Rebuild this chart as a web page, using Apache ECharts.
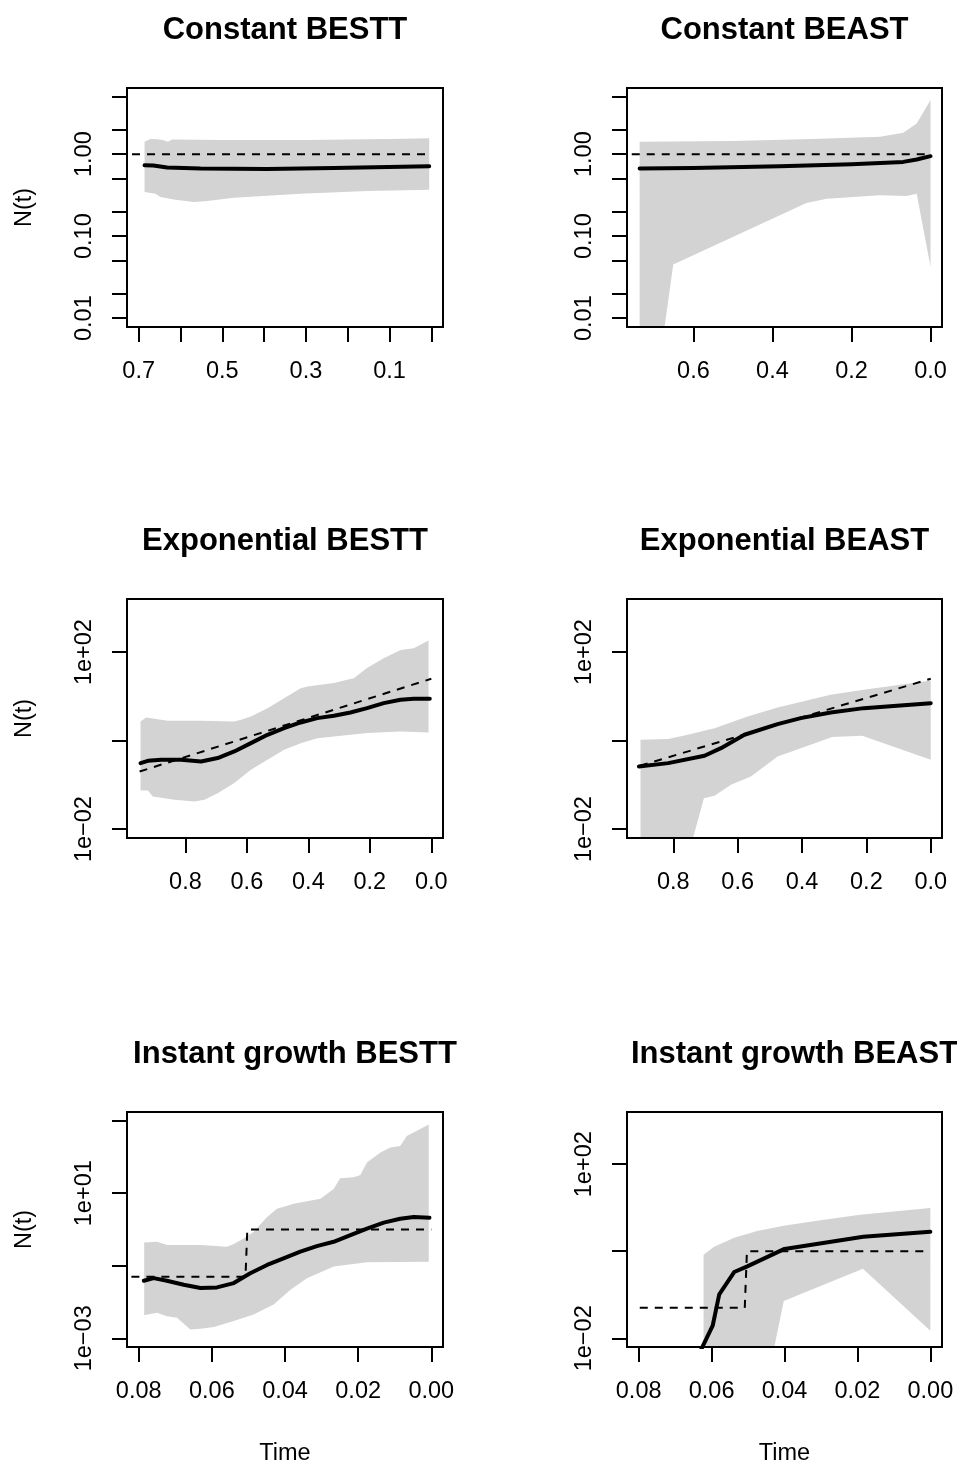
<!DOCTYPE html>
<html>
<head>
<meta charset="utf-8">
<script src="https://cdn.jsdelivr.net/npm/echarts@6/dist/echarts.min.js"></script>
<style>
html,body{margin:0;padding:0;background:#fff;}
#chart{width:957px;height:1467px;}
</style>
</head>
<body>
<div id="chart"></div>
<script>
// ---------------- DATA ----------------
const panelTitles = ['Constant BESTT', 'Constant BEAST', 'Exponential BESTT', 'Exponential BEAST', 'Instant growth BESTT', 'Instant growth BEAST'];
const yAxisTitle = 'N(t)';
const xAxisTitle = 'Time';

// Panel 1: Constant BESTT
const cbMedT = [0.686, 0.665, 0.632, 0.552, 0.393, 0.233, 0.005];
const cbMedN = [0.733, 0.726, 0.687, 0.667, 0.661, 0.680, 0.713];
const cbUpT = [0.686, 0.672, 0.655, 0.640, 0.630, 0.620, 0.500, 0.300, 0.100, 0.005];
const cbUpN = [1.42, 1.53, 1.52, 1.48, 1.42, 1.51, 1.49, 1.49, 1.53, 1.56];
const cbLoT = [0.686, 0.660, 0.648, 0.616, 0.568, 0.536, 0.472, 0.313, 0.153, 0.005];
const cbLoN = [0.346, 0.330, 0.300, 0.279, 0.261, 0.268, 0.295, 0.330, 0.356, 0.369];
const cbTrueT = [0.716, 0];
const cbTrueN = [1, 1];

// Panel 2: Constant BEAST
const caMedT = [0.736, 0.600, 0.381, 0.200, 0.069, 0.035, 0];
const caMedN = [0.667, 0.680, 0.713, 0.755, 0.805, 0.860, 0.945];
const caUpT = [0.736, 0.500, 0.300, 0.128, 0.069, 0.035, 0];
const caUpN = [1.42, 1.45, 1.53, 1.63, 1.82, 2.37, 4.58];
const caLoT = [0.736, 0.690, 0.651, 0.314, 0.263, 0.128, 0.061, 0.035, 0];
const caLoN = [0.002, 0.002, 0.045, 0.254, 0.286, 0.315, 0.309, 0.330, 0.042];
const caTrueT = [0.756, 0];
const caTrueN = [1, 1];

// Panel 3: Exponential BESTT
const ebMedT = [0.946, 0.922, 0.879, 0.814, 0.749, 0.695, 0.641, 0.587, 0.533, 0.479, 0.425, 0.371, 0.317, 0.263, 0.209, 0.155, 0.100, 0.057, 0.005];
const ebMedN = [0.310, 0.350, 0.369, 0.369, 0.338, 0.403, 0.569, 0.877, 1.355, 1.914, 2.57, 3.22, 3.64, 4.33, 5.42, 7.03, 8.37, 8.81, 8.81];
const ebUpT = [0.946, 0.928, 0.857, 0.749, 0.641, 0.619, 0.587, 0.533, 0.479, 0.425, 0.403, 0.317, 0.274, 0.252, 0.209, 0.155, 0.100, 0.057, 0.009];
const ebUpN = [2.71, 3.33, 2.81, 2.81, 2.71, 2.95, 3.52, 5.42, 9.12, 15.3, 16.7, 20.0, 23.7, 25.7, 43.7, 72.4, 112, 123, 182];
const ebLoT = [0.946, 0.922, 0.906, 0.868, 0.836, 0.771, 0.738, 0.695, 0.641, 0.587, 0.533, 0.479, 0.425, 0.371, 0.317, 0.209, 0.100, 0.009];
const ebLoN = [0.0748, 0.0748, 0.0547, 0.0501, 0.0460, 0.0422, 0.0460, 0.0650, 0.1096, 0.219, 0.369, 0.621, 0.877, 1.138, 1.242, 1.479, 1.61, 1.531];
const ebTrueT = [0.949, 0];
const ebTrueN = [0.20, 25];

// Panel 4: Exponential BEAST
const eaMedT = [0.907, 0.816, 0.703, 0.652, 0.579, 0.476, 0.404, 0.311, 0.208, 0.105, 0];
const eaMedN = [0.261, 0.310, 0.454, 0.676, 1.355, 2.36, 3.22, 4.33, 5.42, 6.12, 7.03];
const eaUpT = [0.902, 0.816, 0.755, 0.672, 0.569, 0.476, 0.311, 0.208, 0];
const eaUpN = [1.045, 1.081, 1.355, 1.914, 3.52, 5.62, 10.9, 14.1, 22.9];
const eaLoT = [0.902, 0.750, 0.705, 0.672, 0.621, 0.559, 0.476, 0.404, 0.306, 0.213, 0];
const eaLoN = [0.00316, 0.00316, 0.0501, 0.0566, 0.1005, 0.155, 0.439, 0.676, 1.20, 1.285, 0.369];
const eaTrueT = [0.904, 0];
const eaTrueN = [0.27, 25];

// Panel 5: Instant growth BESTT
const ibMedT = [0.0786, 0.0759, 0.0723, 0.0677, 0.0631, 0.0586, 0.0540, 0.0495, 0.0449, 0.0404, 0.0358, 0.0313, 0.0267, 0.0221, 0.0176, 0.0130, 0.0085, 0.0048, 0.0005];
const ibMedN = [0.0385, 0.0455, 0.0385, 0.0299, 0.0243, 0.0253, 0.0333, 0.0624, 0.1054, 0.160, 0.244, 0.348, 0.458, 0.697, 1.059, 1.545, 1.986, 2.21, 2.12];
const ibUpT = [0.0785, 0.0750, 0.0723, 0.0631, 0.0559, 0.0540, 0.0513, 0.0486, 0.0449, 0.0422, 0.0376, 0.0303, 0.0267, 0.0249, 0.0212, 0.0194, 0.0176, 0.0139, 0.0112, 0.0085, 0.0067, 0.0007];
const ibUpN = [0.439, 0.458, 0.371, 0.371, 0.334, 0.395, 0.565, 0.859, 2.21, 3.73, 5.11, 7.0, 13.1, 25.7, 27.4, 31.7, 70.3, 132, 181, 201, 377, 785];
const ibLoT = [0.0785, 0.0750, 0.0723, 0.0695, 0.0659, 0.0631, 0.0595, 0.0540, 0.0486, 0.0431, 0.0385, 0.0340, 0.0267, 0.0176, 0.0007];
const ibLoN = [0.00435, 0.00504, 0.00407, 0.00367, 0.00176, 0.00184, 0.00204, 0.00298, 0.00453, 0.00851, 0.0219, 0.0455, 0.0948, 0.125, 0.130];
const ibTrueT = [0.0820, 0.0508, 0.0503, 0];
const ibTrueN = [0.05, 0.05, 1, 1];

// Panel 6: Instant growth BEAST
const iaMedT = [0.0640, 0.0597, 0.0579, 0.0538, 0.0502, 0.0400, 0.0184, 0];
const iaMedN = [0.0035, 0.0194, 0.102, 0.333, 0.449, 1.13, 2.15, 2.80];
const iaUpT = [0.0622, 0.0593, 0.0538, 0.0475, 0.0402, 0.0320, 0.0193, 0];
const iaUpN = [0.826, 1.276, 2.05, 2.90, 3.83, 4.89, 6.93, 9.82];
const iaLoT = [0.0622, 0.0455, 0.0402, 0.0185, 0];
const iaLoN = [0.0005, 0.0005, 0.0718, 0.396, 0.0149];
const iaTrueT = [0.0797, 0.0509, 0.0503, 0];
const iaTrueN = [0.05, 0.05, 1, 1];

// Tick values and tick labels
const xTicksConstBestt = [0, 0.1, 0.2, 0.3, 0.4, 0.5, 0.6, 0.7];
const xLabelValsConstBestt = [0.7, 0.5, 0.3, 0.1];
const xLabelTextConstBestt = ['0.7', '0.5', '0.3', '0.1'];
const xTicksConstBeast = [0, 0.2, 0.4, 0.6];
const xLabelValsConstBeast = [0.6, 0.4, 0.2, 0];
const xLabelTextConstBeast = ['0.6', '0.4', '0.2', '0.0'];
const xTicksExp = [0, 0.2, 0.4, 0.6, 0.8];
const xLabelValsExp = [0.8, 0.6, 0.4, 0.2, 0];
const xLabelTextExp = ['0.8', '0.6', '0.4', '0.2', '0.0'];
const xTicksInst = [0, 0.02, 0.04, 0.06, 0.08];
const xLabelValsInst = [0.08, 0.06, 0.04, 0.02, 0];
const xLabelTextInst = ['0.08', '0.06', '0.04', '0.02', '0.00'];

const yTicksConst = [0.01, 0.02, 0.05, 0.1, 0.2, 0.5, 1, 2, 5];
const yLabelValsConst = [0.01, 0.1, 1];
const yLabelTextConst = ['0.01', '0.10', '1.00'];
const yTicksExp = [0.01, 1, 100];
const yLabelValsExp = [0.01, 100];
const yLabelTextExp = ['1e\u221202', '1e+02'];
const yTicksInstBestt = [0.001, 0.1, 10, 1000];
const yLabelValsInstBestt = [0.001, 10];
const yLabelTextInstBestt = ['1e\u221203', '1e+01'];

// Axis limits (x in time units, y in N(t), both as plotted ranges)
const xLimConstBestt = [-0.028, 0.728];
const xLimConstBeast = [-0.029, 0.768];
const xLimExpBestt = [-0.038, 0.990];
const xLimExpBeast = [-0.035, 0.944];
const xLimInst = [-0.0032, 0.0832];
const yLimConst = [0.0078, 6.41];
const yLimExp = [0.0063, 1585];
const yLimInstBestt = [0.000575, 1738];

// ---------------- LAYOUT / STYLE ----------------
const FONT = 'Liberation Sans';
const TICK_FONT = 23.5;
const cols = [{left: 127, width: 316}, {left: 627, width: 315}];
const rows = [{top: 88, height: 239, titleShift: 0}, {top: 599, height: 239, titleShift: 0}, {top: 1112, height: 238, titleShift: 10}];

const panels = [
  {med: [cbMedT, cbMedN], up: [cbUpT, cbUpN], lo: [cbLoT, cbLoN], tru: [cbTrueT, cbTrueN], xl: xLimConstBestt, yl: yLimConst,
   xt: xTicksConstBestt, xv: xLabelValsConstBestt, xs: xLabelTextConstBestt, yt: yTicksConst, yv: yLabelValsConst, ys: yLabelTextConst},
  {med: [caMedT, caMedN], up: [caUpT, caUpN], lo: [caLoT, caLoN], tru: [caTrueT, caTrueN], xl: xLimConstBeast, yl: yLimConst,
   xt: xTicksConstBeast, xv: xLabelValsConstBeast, xs: xLabelTextConstBeast, yt: yTicksConst, yv: yLabelValsConst, ys: yLabelTextConst},
  {med: [ebMedT, ebMedN], up: [ebUpT, ebUpN], lo: [ebLoT, ebLoN], tru: [ebTrueT, ebTrueN], xl: xLimExpBestt, yl: yLimExp,
   xt: xTicksExp, xv: xLabelValsExp, xs: xLabelTextExp, yt: yTicksExp, yv: yLabelValsExp, ys: yLabelTextExp},
  {med: [eaMedT, eaMedN], up: [eaUpT, eaUpN], lo: [eaLoT, eaLoN], tru: [eaTrueT, eaTrueN], xl: xLimExpBeast, yl: yLimExp,
   xt: xTicksExp, xv: xLabelValsExp, xs: xLabelTextExp, yt: yTicksExp, yv: yLabelValsExp, ys: yLabelTextExp},
  {med: [ibMedT, ibMedN], up: [ibUpT, ibUpN], lo: [ibLoT, ibLoN], tru: [ibTrueT, ibTrueN], xl: xLimInst, yl: yLimInstBestt,
   xt: xTicksInst, xv: xLabelValsInst, xs: xLabelTextInst, yt: yTicksInstBestt, yv: yLabelValsInstBestt, ys: yLabelTextInstBestt},
  {med: [iaMedT, iaMedN], up: [iaUpT, iaUpN], lo: [iaLoT, iaLoN], tru: [iaTrueT, iaTrueN], xl: xLimInst, yl: yLimExp,
   xt: xTicksInst, xv: xLabelValsInst, xs: xLabelTextInst, yt: yTicksExp, yv: yLabelValsExp, ys: yLabelTextExp}
];

const L = Math.log10;
function pairs(t, n) { return t.map((v, i) => [v, L(n[i])]); }
function lookup(vals, texts, v, isLog) {
  for (let i = 0; i < vals.length; i++) {
    const a = isLog ? L(vals[i]) : vals[i];
    if (Math.abs(a - v) < 1e-6) return texts[i];
  }
  return '';
}

const grid = [], xAxis = [], yAxis = [], series = [], title = [];
panels.forEach((p, k) => {
  const c = cols[k % 2], r = rows[Math.floor(k / 2)];
  grid.push({left: c.left, top: r.top, width: c.width, height: r.height, show: true,
    borderColor: '#000', borderWidth: 2, backgroundColor: 'transparent', z: 10});
  title.push({text: panelTitles[k], left: c.left + c.width / 2 + r.titleShift, top: r.top - 73, textAlign: 'center', padding: 0,
    textStyle: {fontFamily: FONT, fontSize: 31, fontWeight: 'bold', color: '#000'}});
  xAxis.push({
    gridIndex: k, type: 'value', inverse: true, min: p.xl[0], max: p.xl[1],
    name: (k >= 4) ? xAxisTitle : '', nameLocation: 'middle', nameGap: 95,
    nameTextStyle: {fontFamily: FONT, fontSize: TICK_FONT, color: '#000'},
    axisLine: {show: true, onZero: false, lineStyle: {color: '#000', width: 2}},
    axisTick: {show: true, length: 15, lineStyle: {color: '#000', width: 2}, customValues: p.xt},
    axisLabel: {show: true, margin: 33, fontFamily: FONT, fontSize: TICK_FONT, color: '#000', customValues: p.xv,
      formatter: (v) => lookup(p.xv, p.xs, v, false)},
    splitLine: {show: false}
  });
  yAxis.push({
    gridIndex: k, type: 'value', min: L(p.yl[0]), max: L(p.yl[1]),
    name: (k % 2 === 0) ? yAxisTitle : '', nameLocation: 'middle', nameGap: 90, nameRotate: 90,
    nameTextStyle: {fontFamily: FONT, fontSize: TICK_FONT, color: '#000'},
    axisLine: {show: true, onZero: false, lineStyle: {color: '#000', width: 2}},
    axisTick: {show: true, length: 15, lineStyle: {color: '#000', width: 2}, customValues: p.yt.map(L)},
    axisLabel: {show: true, rotate: 90, margin: 30, fontFamily: FONT, fontSize: TICK_FONT, color: '#000',
      customValues: p.yv.map(L), formatter: (v) => lookup(p.yv, p.ys, v, true)},
    splitLine: {show: false}
  });
  const poly = pairs(p.up[0], p.up[1]).concat(pairs(p.lo[0], p.lo[1]).reverse());
  series.push({
    type: 'custom', xAxisIndex: k, yAxisIndex: k, clip: true, silent: true, z: 1,
    data: poly,
    renderItem: function (params, api) {
      if (params.dataIndex !== 0) return null;
      const pts = poly.map(q => api.coord(q));
      const cs = params.coordSys;
      return {type: 'polygon', shape: {points: pts}, style: {fill: '#D3D3D3'},
        clipPath: {type: 'rect', shape: {x: cs.x, y: cs.y, width: cs.width, height: cs.height}}};
    }
  });
  series.push({
    type: 'line', xAxisIndex: k, yAxisIndex: k, data: pairs(p.med[0], p.med[1]),
    showSymbol: false, symbol: 'none', clip: true, z: 3, silent: true,
    lineStyle: {color: '#000', width: 4, cap: 'round', join: 'round'}
  });
  series.push({
    type: 'line', xAxisIndex: k, yAxisIndex: k, data: pairs(p.tru[0], p.tru[1]),
    showSymbol: false, symbol: 'none', clip: true, z: 4, silent: true,
    lineStyle: {color: '#000', width: 2, type: [8, 7]}
  });
});

const chart = echarts.init(document.getElementById('chart'), null, {renderer: 'canvas'});
chart.setOption({
  animation: false,
  backgroundColor: '#fff',
  title: title, grid: grid, xAxis: xAxis, yAxis: yAxis, series: series
});
</script>
</body>
</html>
